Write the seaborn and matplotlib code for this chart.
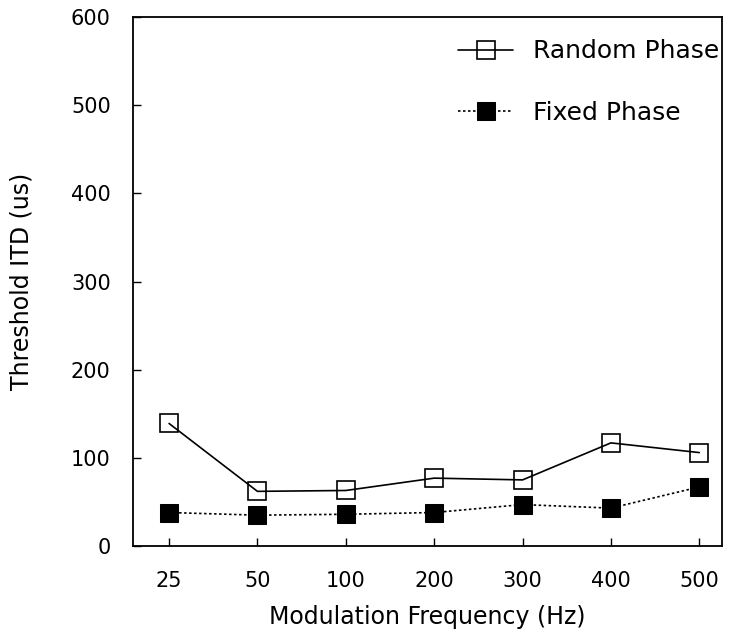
import numpy as np
import pandas as pd
import matplotlib
matplotlib.use('Agg')
import matplotlib.pyplot as plt
import seaborn as sns

freqs = ['25', '50', '100', '200', '300', '400', '500']
random_phase = [139, 62, 63, 77, 75, 117, 106]
fixed_phase = [38, 35, 36, 38, 47, 43, 67]

df = pd.DataFrame({'freq': freqs, 'Random Phase': random_phase,
                   'Fixed Phase': fixed_phase})

sns.set_theme(style='ticks')
plt.rcParams['font.family'] = ['DejaVu Sans']
plt.rcParams['text.color'] = 'black'
plt.rcParams['axes.labelcolor'] = 'black'

fig = plt.figure(figsize=(7.34, 6.36), dpi=100)
ax = fig.add_axes([0.181, 0.1415, 0.803, 0.8315])

# open squares: line runs through them like in the original
sns.lineplot(data=df, x='freq', y='Random Phase', ax=ax, sort=False,
             color='black', linewidth=1.2, marker='s', markersize=12.5,
             markerfacecolor='none', markeredgecolor='black',
             markeredgewidth=1.2, label='Random Phase')
sns.lineplot(data=df, x='freq', y='Fixed Phase', ax=ax, sort=False,
             color='black', linewidth=1.2, linestyle=(0, (1.5, 1.5)),
             marker='s', markersize=12.5, markerfacecolor='black',
             markeredgecolor='black', label='Fixed Phase')

ax.set_ylim(0, 600)
ax.set_xlim(-0.41, 6.26)
ax.set_yticks(range(0, 601, 100))
ax.set_xlabel('Modulation Frequency (Hz)', fontsize=17, labelpad=10)
ax.set_ylabel('Threshold ITD (us)', fontsize=17, labelpad=27)
ax.tick_params(direction='in', length=6, width=1, labelsize=15,
               colors='black')
ax.tick_params(axis='x', pad=18)
ax.tick_params(axis='y', pad=16)
for s in ax.spines.values():
    s.set_linewidth(1.3)
    s.set_color('black')

ax.legend(loc='upper right', bbox_to_anchor=(0.995, 0.958), frameon=False,
          fontsize=18, labelspacing=1.5, handlelength=2.2,
          handletextpad=0.8, borderpad=0, borderaxespad=0)

fig.savefig('out.png', dpi=100)
